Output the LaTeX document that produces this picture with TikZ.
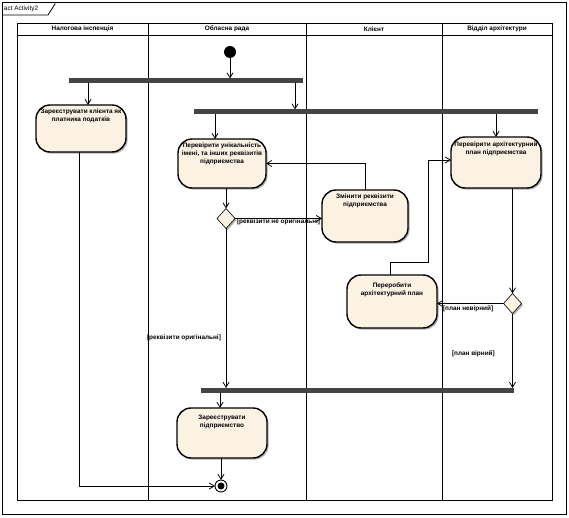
\documentclass[tikz,border=0pt]{standalone}
\usepackage{fontspec}
\setmainfont{Liberation Sans}
\usetikzlibrary{arrows.meta,shapes.geometric,shadows}
\definecolor{actfill}{RGB}{251,242,228}
\definecolor{barfill}{RGB}{68,68,68}
\begin{document}
\begin{tikzpicture}[x=1pt,y=-1pt,line width=0.8pt,
  every node/.style={font=\bfseries\fontsize{6.4}{8}\selectfont,inner sep=0pt,outer sep=0pt},
  lbl/.style={font=\bfseries\fontsize{6.4}{8}\selectfont},
  acttext/.style={anchor=north,align=center,font=\bfseries\fontsize{6.4}{8}\selectfont},
  actbox/.style={draw,line width=1.4pt,rounded corners=14pt,fill=actfill,
    drop shadow={shadow xshift=1.6pt,shadow yshift=-1.6pt,fill=black!30,opacity=1}},
  dec/.style={draw,diamond,aspect=1,minimum width=18pt,minimum height=20pt,fill=actfill,line width=0.6pt,
    drop shadow={shadow xshift=1.6pt,shadow yshift=-1.6pt,fill=black!30,opacity=1}},
  barnode/.style={fill=barfill,minimum height=5pt},
  flow/.style={-{Straight Barb[length=5pt,width=6pt]},line width=0.8pt}]
\useasboundingbox (0,0) rectangle (569,518);
\fill[white] (0,0) rectangle (569,518);
% frame
\draw[line width=0.8pt] (2,2) rectangle (566,514);
\draw[line width=0.8pt] (2,15) -- (48,15) -- (55,4) -- (55,2);
\node[anchor=west,font=\fontsize{6.4}{8}\selectfont] (frametitle) at (4,8.5) {act Activity2};
% swimlanes
\draw (17,23) rectangle (552,500);
\draw (17,35) -- (552,35);
\foreach \xx in {148,306,442} \draw (\xx,23) -- (\xx,500);
\node (h1) at (82.5,29) {Налогова інспенція};
\node (h2) at (227,29) {Обласна рада};
\node (h3) at (374,29) {Клієнт};
\node (h4) at (497,29) {Відділ архітектури};
% initial / final
\node[circle,fill=black,minimum size=12pt] (init) at (230,52) {};
\node[circle,draw,fill=white,line width=0.9pt,minimum size=12pt] (fin) at (221,486) {};
\node[circle,fill=black,minimum size=7pt] (fininner) at (221,486) {};
% bars
\node[barnode,minimum width=234pt] (bar1) at (186,81) {};
\node[barnode,minimum width=344pt] (bar2) at (366,112) {};
\node[barnode,minimum width=313pt] (bar3) at (357.5,390.5) {};
% actions
\node[actbox,minimum width=90pt,minimum height=47pt] (a1) at (81,128.5) {};
\node[acttext] (a1t) at (81,108.5) {Зареєструвати клієнта як\\платника податків};
\node[actbox,minimum width=88pt,minimum height=49pt] (a2) at (222,163.5) {};
\node[acttext] (a2t) at (222,142.5) {Перевірити унікальність\\імені, та інших реквізитів\\підприємства};
\node[actbox,minimum width=86pt,minimum height=52pt] (a3) at (365,216) {};
\node[acttext] (a3t) at (365,194) {Змінити реквізити\\підприємства};
\node[actbox,minimum width=90pt,minimum height=51pt] (a4) at (496,162.5) {};
\node[acttext] (a4t) at (496,142) {Перевірити архітектурний\\план підприємства};
\node[actbox,minimum width=90pt,minimum height=53pt] (a5) at (392,301.5) {};
\node[acttext] (a5t) at (392,282.5) {Переробити\\архітектурний план};
\node[actbox,minimum width=90pt,minimum height=50pt] (a6) at (222,433) {};
\node[acttext] (a6t) at (222,415.5) {Зареєструвати\\підприємство};
% decisions
\node[dec] (d1) at (226,218.5) {};
\node[dec] (d2) at (512.5,303.5) {};
% flows
\draw[flow] (init) -- (init |- bar1.north);
\draw[flow] (bar1.south -| a1.north) ++(7,0) -- ([xshift=7pt]a1.north);
\draw[flow] (bar1.south -| bar2.north) ++(-71,0) -- ([xshift=-71pt]bar2.north);
\draw[flow] (bar2.south -| a2.north) ++(-7,0) -- ([xshift=-7pt]a2.north);
\draw[flow] (bar2.south -| a4.north) -- (a4.north);
\draw[flow] (a2.south -| d1.north) -- (d1.north);
\draw[flow] (d1.east) -- (d1.east -| a3.west);
\node[lbl,anchor=north west] (l1) at (237,218.5) {[реквізити не оригінальні]};
\draw[flow] (a3.north) |- (a2.east);
\draw[flow] (d1.south) -- (d1.south |- bar3.north);
\node[lbl,anchor=west] (l2) at (147,338) {[реквізити оригінальні]};
\draw[flow] (bar3.south -| a6.north) ++(-2,0) -- ([xshift=-2pt]a6.north);
\draw[flow] (a6.south -| fin.north) -- (fin.north);
\draw[flow] ([xshift=-2pt]a1.south) |- (fin.west);
\draw[flow] (a4.south -| d2.north) -- (d2.north);
\draw[flow] (d2.west) -- (d2.west -| a5.east);
\node[lbl,anchor=west] (l3) at (443,308.5) {[план невірний]};
\draw[flow] ([xshift=-2pt]a5.north) -- ++(0,-13) -| (428,160) -- (a4.west |- 0,160);
\draw[flow] (d2.south) -- (d2.south |- bar3.north);
\node[lbl,anchor=west] (l4) at (452,354) {[план вірний]};
\end{tikzpicture}
\end{document}
